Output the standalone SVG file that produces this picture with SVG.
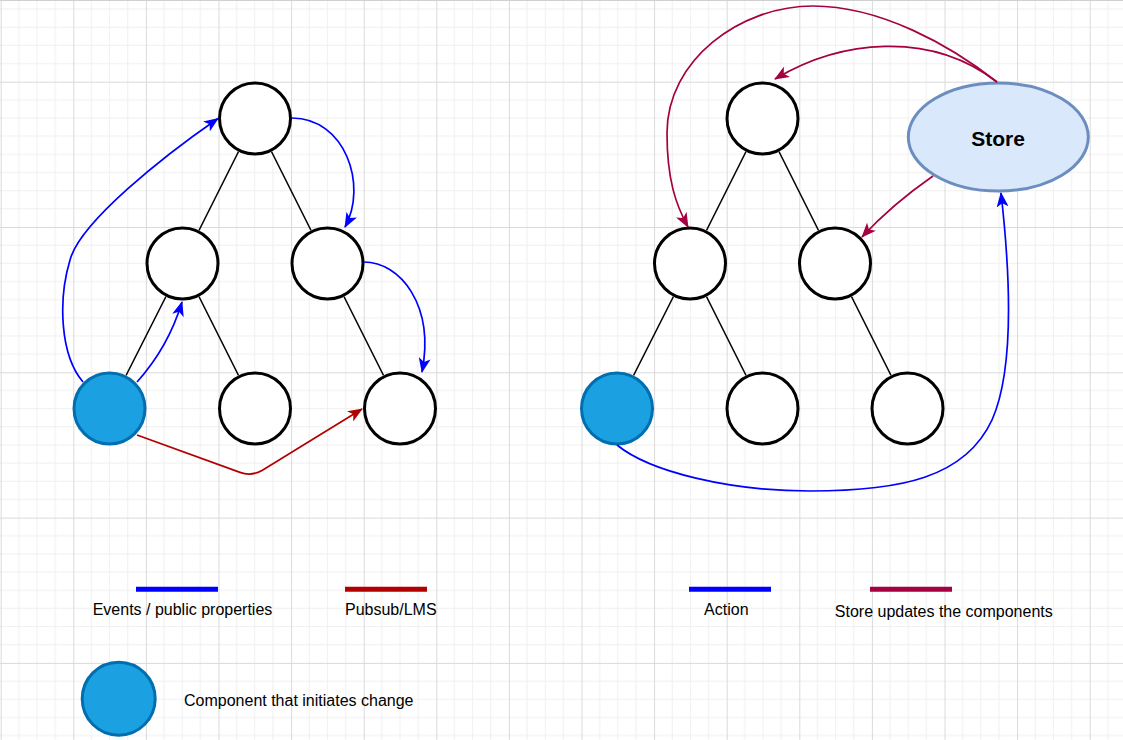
<svg xmlns="http://www.w3.org/2000/svg" width="1123" height="740" viewBox="0 0 1123 740">
<style>
.node{fill:#ffffff;stroke:#000000;stroke-width:3}
.init{fill:#1ba1e2;stroke:#006eaf;stroke-width:3}
.tree{stroke:#000000;stroke-width:1.4;fill:none}
.blue{stroke:#0000ff;stroke-width:1.7;fill:none}
.red{stroke:#b20000;stroke-width:1.7;fill:none}
.rose{stroke:#a50040;stroke-width:1.7;fill:none}
.leg{stroke-width:5;fill:none}
.lbl{font-family:"Liberation Sans",Arial,sans-serif;font-size:16px;fill:#000000}
</style>
<defs>
<pattern id="grid" x="0.7" y="81.7" width="72.6" height="145.3" patternUnits="userSpaceOnUse">
<path d="M18.15,0V145.3M36.3,0V145.3M54.45,0V145.3M0,18.16H72.6M0,36.33H72.6M0,54.49H72.6M0,72.65H72.6M0,90.81H72.6M0,108.98H72.6M0,127.14H72.6" stroke="#f0f0f0" stroke-width="1" fill="none"/>
<path d="M0.5,0V145.3M0,0.5H72.6" stroke="#dadada" stroke-width="1" fill="none"/>
</pattern>
<marker id="ab" viewBox="0 0 15 12" markerUnits="userSpaceOnUse" markerWidth="15" markerHeight="12" refX="14" refY="6" orient="auto"><path d="M0,0L15,6L0,12L3.8,6Z" fill="#0000ff"/></marker>
<marker id="ar" viewBox="0 0 15 12" markerUnits="userSpaceOnUse" markerWidth="15" markerHeight="12" refX="14" refY="6" orient="auto"><path d="M0,0L15,6L0,12L3.8,6Z" fill="#b20000"/></marker>
<marker id="ap" viewBox="0 0 15 12" markerUnits="userSpaceOnUse" markerWidth="15" markerHeight="12" refX="14" refY="6" orient="auto"><path d="M0,0L15,6L0,12L3.8,6Z" fill="#a50040"/></marker>
</defs>
<rect width="1123" height="740" fill="#ffffff"/>
<rect width="1123" height="740" fill="url(#grid)"/>
<line x1="0" y1="0.5" x2="1123" y2="0.5" stroke="#d0d0d0" stroke-width="1"/>

<g id="left-tree">
<g id="l-top"><circle class="node" cx="255" cy="118.5" r="35.5"/></g>
<g id="l-mid-left"><circle class="node" cx="182.5" cy="263.5" r="35.5"/></g>
<g id="l-mid-right"><circle class="node" cx="327.5" cy="263.5" r="35.5"/></g>
<g id="l-bot-left"><circle class="init" cx="109.5" cy="408.5" r="35.5"/></g>
<g id="l-bot-mid"><circle class="node" cx="255" cy="408.5" r="35.5"/></g>
<g id="l-bot-right"><circle class="node" cx="400" cy="408.5" r="35.5"/></g>
</g>

<g id="right-tree">
<g id="r-top"><circle class="node" cx="762.5" cy="118.5" r="35.5"/></g>
<g id="r-mid-left"><circle class="node" cx="690" cy="263.5" r="35.5"/></g>
<g id="r-mid-right"><circle class="node" cx="835" cy="263.5" r="35.5"/></g>
<g id="r-bot-left"><circle class="init" cx="617" cy="408.5" r="35.5"/></g>
<g id="r-bot-mid"><circle class="node" cx="762.5" cy="408.5" r="35.5"/></g>
<g id="r-bot-right"><circle class="node" cx="907.5" cy="408.5" r="35.5"/></g>
</g>

<g id="store">
<ellipse cx="998.3" cy="137" rx="90" ry="54" fill="#dae8fc" stroke="#6c8ebf" stroke-width="3"/>
<text x="998" y="145.5" text-anchor="middle" font-family="'Liberation Sans',Arial,sans-serif" font-size="21" font-weight="bold" fill="#000000">Store</text>
</g>

<g id="connectors">
<path class="tree" d="M238.5,151.6L199,230.4M271.5,151.6L311,230.4M165.9,296.6L126.1,375.4M199,296.6L238.5,375.4M344,296.6L383.5,375.4"/>
<path class="tree" d="M746,151.6L706.5,230.4M779,151.6L818.5,230.4M673.4,296.6L633.6,375.4M706.5,296.6L746,375.4M851.5,296.6L891,375.4"/>
<path class="blue" marker-end="url(#ab)" d="M83,382C60,355 58,300 70,260C80,222 165,155 218,118.5"/>
<path class="blue" marker-end="url(#ab)" d="M137,382C155,362 172,335 182,302"/>
<path class="blue" marker-end="url(#ab)" d="M292,118C345,118 368,185 345,227"/>
<path class="blue" marker-end="url(#ab)" d="M364,262C400,262 435,305 422,372"/>
<path class="red" marker-end="url(#ar)" d="M137,435L240,472.4Q251.3,476.5 262,470.4L362,409"/>
<path class="rose" marker-end="url(#ap)" d="M997,82C930,30 840,40 775,79"/>
<path class="rose" marker-end="url(#ap)" d="M997,82C950,45 880,6 813,6C740,6 667,60 667,133C667,180 676,205 688,227"/>
<path class="rose" marker-end="url(#ap)" d="M933,176C910,192 885,212 862,237"/>
<path class="blue" marker-end="url(#ab)" d="M617,445C650,472 730,491 810,491C900,491 965,478 992,420C1012,375 1012,290 1001,193"/>
</g>

<g id="legend">
<g id="leg-events"><line class="leg" x1="136" y1="589.3" x2="218" y2="589.3" stroke="#0000ff"/><text class="lbl" x="182.5" y="614.5" text-anchor="middle">Events / public properties</text></g>
<g id="leg-pubsub"><line class="leg" x1="345" y1="589.3" x2="427" y2="589.3" stroke="#b20000"/><text class="lbl" x="390.8" y="614.5" text-anchor="middle">Pubsub/LMS</text></g>
<g id="leg-action"><line class="leg" x1="689" y1="589.3" x2="771" y2="589.3" stroke="#0000ff"/><text class="lbl" x="726.3" y="614.5" text-anchor="middle">Action</text></g>
<g id="leg-store"><line class="leg" x1="870" y1="589.3" x2="952" y2="589.3" stroke="#a50040"/><text class="lbl" x="943.8" y="616.5" text-anchor="middle">Store updates the components</text></g>
<g id="leg-initiator"><circle class="init" cx="118.7" cy="698.7" r="36.5"/><text class="lbl" x="184" y="705.5">Component that initiates change</text></g>
</g>
</svg>
